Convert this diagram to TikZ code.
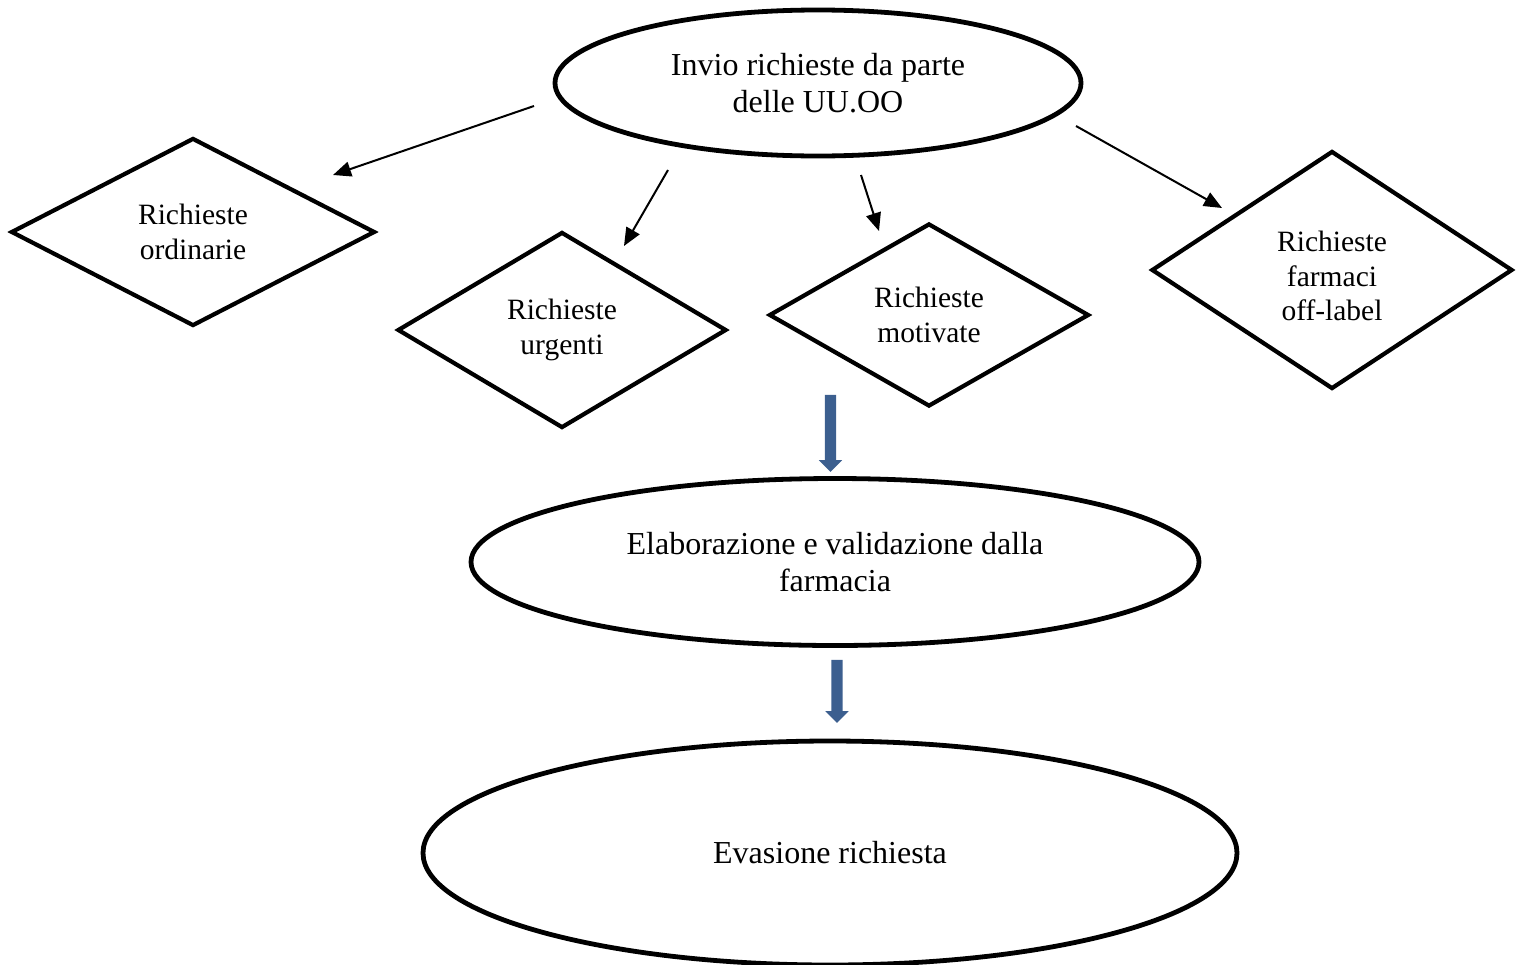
\documentclass[tikz,border=0pt]{standalone}
\usepackage{fontspec}
\setmainfont{Liberation Serif}
\usetikzlibrary{shapes.geometric,shapes.arrows,arrows.meta}
\definecolor{flowblue}{RGB}{60,95,143}
\begin{document}
\begin{tikzpicture}[x=1pt,y=-1pt,
  txt/.style={align=center,font=\fontsize{29.5}{34.5}\selectfont},
  bigtxt/.style={align=center,font=\fontsize{32}{36.5}\selectfont},
  oval/.style={ellipse,draw,line width=4.8pt,inner sep=0pt,bigtxt},
  choice/.style={diamond,draw,line width=4.2pt,inner sep=0pt,txt},
  link/.style={line width=2pt,-{Triangle[length=18pt,width=15pt]}},
  flow/.style={single arrow,fill=flowblue,draw=none,rotate=-90,inner sep=5.5pt,
    single arrow head extend=6pt,minimum width=23pt},
  ]
\useasboundingbox (0,0) rectangle (1520,964);

% request sources and categories
\node[oval,minimum width=526pt,minimum height=146pt] (invio) at (818,83)
  {Invio richieste da parte\\delle UU.OO};
\node[choice,minimum width=364pt,minimum height=188pt] (ord) at (193,232)
  {Richieste\\ordinarie};
\node[choice,minimum width=329pt,minimum height=196pt] (urg) at (562,330)
  {Richieste\\urgenti};
\node[choice,minimum width=320pt,minimum height=183pt] (mot) at (929,315)
  {Richieste\\motivate};
\node[choice,minimum width=361pt,minimum height=238pt] (off) at (1332,270) {};
\node[txt] (offtxt) at (1332,276) {Richieste\\farmaci\\off-label};

% processing steps
\node[oval,minimum width=728pt,minimum height=167pt] (elab) at (835,562)
  {Elaborazione e validazione dalla\\farmacia};
\node[oval,minimum width=814pt,minimum height=224pt] (evas) at (830,853)
  {Evasione richiesta};

% free ends of the thin connectors
\coordinate (s1) at (534,106);  \coordinate (e1) at (333,175);
\coordinate (s2) at (668,170);  \coordinate (e2) at (624,246);
\coordinate (s3) at (861,175);  \coordinate (e3) at (879,231);
\coordinate (s4) at (1076,126); \coordinate (e4) at (1222,208);
\draw[link] (s1) -- (e1);
\draw[link] (s2) -- (e2);
\draw[link] (s3) -- (e3);
\draw[link] (s4) -- (e4);

% block arrows between the steps
\node[flow,minimum height=77pt] (down1) at (830.5,430.5) {};
\node[flow,minimum height=63pt] (down2) at (837,688.5) {};
\end{tikzpicture}
\end{document}
